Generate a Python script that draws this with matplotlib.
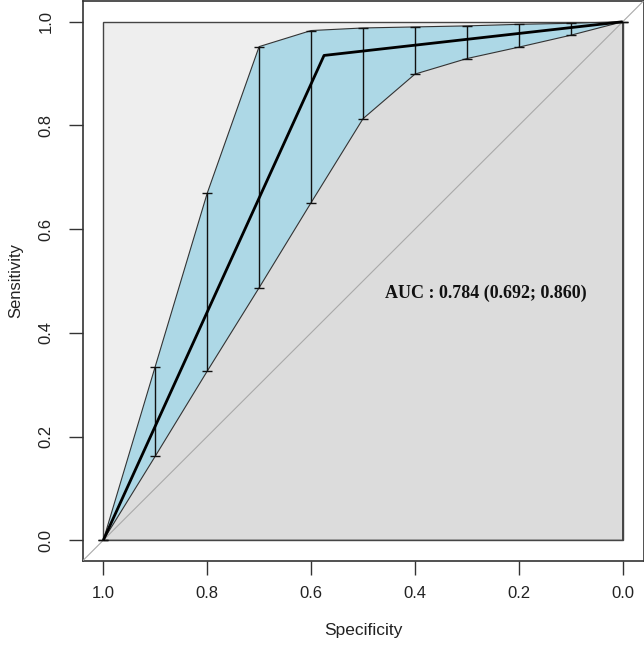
import matplotlib
matplotlib.use("Agg")
import matplotlib.pyplot as plt
from matplotlib.patches import Polygon

# ---- data ----
roc_spec = [1.0, 0.575, 0.0]
roc_sens = [0.0, 0.935, 1.0]
ci_spec = [1.0, 0.9, 0.8, 0.7, 0.6, 0.5, 0.4, 0.3, 0.2, 0.1, 0.0]
ci_lower = [0.0, 0.162, 0.326, 0.487, 0.651, 0.813, 0.899, 0.929, 0.951, 0.974, 1.0]
ci_upper = [0.0, 0.335, 0.669, 0.952, 0.983, 0.988, 0.990, 0.992, 0.995, 0.997, 1.0]
auc_text = "AUC : 0.784 (0.692; 0.860)"
ticks = [1.0, 0.8, 0.6, 0.4, 0.2, 0.0]
tick_labels = ["1.0", "0.8", "0.6", "0.4", "0.2", "0.0"]

plt.rcParams['font.family'] = ['Liberation Sans', 'DejaVu Sans']

fig = plt.figure(figsize=(6.44, 6.45), dpi=100)
W, H = 644, 645
ax = fig.add_axes([82.5 / W, 84 / H, (643.5 - 82.5) / W, (644 - 84) / H])
ax.set_xlim(1.04, -0.04)
ax.set_ylim(-0.04, 1.04)

# max AUC polygon (light grey)
ax.add_patch(Polygon([(1, 0), (1, 1), (0, 1), (0, 0)], closed=True,
                     facecolor='#EEEEEE', edgecolor='#444444', lw=1.0, zorder=1))
# AUC polygon
auc_pts = list(zip(roc_spec, roc_sens)) + [(0, 0)]
ax.add_patch(Polygon(auc_pts, closed=True, facecolor='#DCDCDC',
                     edgecolor='#444444', lw=1.0, zorder=2))
# identity line
ax.plot([1.04, -0.04], [-0.04, 1.04], color='#A9A9A9', lw=0.8, zorder=3)

# CI band
band = list(zip(ci_spec, ci_upper)) + list(zip(ci_spec[::-1], ci_lower[::-1]))
ax.add_patch(Polygon(band, closed=True, facecolor='#ADD8E6',
                     edgecolor='#333333', lw=0.8, zorder=4))

# CI bars
mid = [(l + u) / 2 for l, u in zip(ci_lower, ci_upper)]
err = [[m - l for m, l in zip(mid, ci_lower)], [u - m for u, m in zip(ci_upper, mid)]]
ax.errorbar(ci_spec, mid, yerr=err, fmt='none', ecolor='#111111', elinewidth=1.0,
            capsize=3.6, capthick=1.0, zorder=5)

# ROC curve
ax.plot(roc_spec, roc_sens, color='black', lw=2.0, zorder=6, solid_capstyle='butt')

ax.text(0.458, 0.477, auc_text, ha='left', va='center', fontsize=13,
        fontweight='bold', family=['Liberation Serif', 'DejaVu Serif'],
        color='#111111', zorder=7)

ax.set_xticks(ticks)
ax.set_xticklabels(tick_labels)
ax.set_yticks(ticks)
ax.set_yticklabels(tick_labels)
ax.tick_params(axis='both', direction='out', length=10, width=1.0,
               colors='#333333', labelsize=12, labelcolor='#222222')
ax.tick_params(axis='x', pad=8)
ax.tick_params(axis='y', pad=11, labelrotation=90)
for lab in ax.get_yticklabels():
    lab.set_va('center')

for s in ax.spines.values():
    s.set_color('#333333')
    s.set_linewidth(1.2)

ax.set_xlabel('Specificity', fontsize=12.5, color='#222222', labelpad=16)
ax.set_ylabel('Sensitivity', fontsize=12, color='#222222', labelpad=11)

fig.savefig('out.png', dpi=100)
